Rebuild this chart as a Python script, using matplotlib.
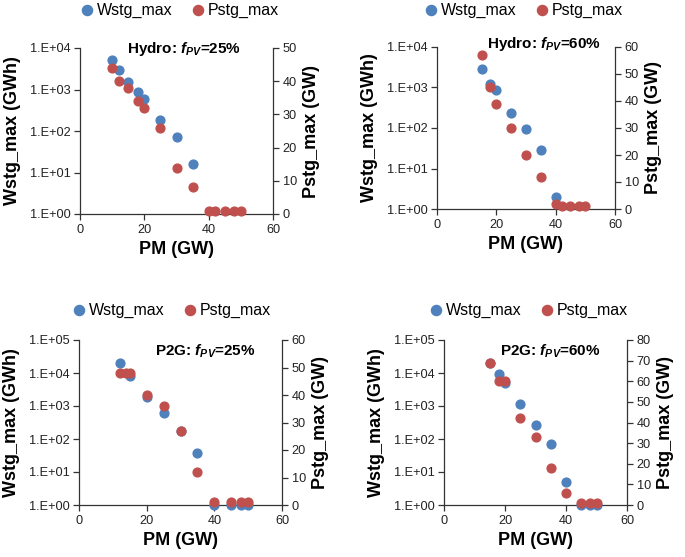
import numpy as np
import matplotlib
matplotlib.use("Agg")
import matplotlib.pyplot as plt
from matplotlib.ticker import FixedLocator, FuncFormatter

plt.rcParams["font.family"] = ["Liberation Sans", "DejaVu Sans"]
plt.rcParams["mathtext.fontset"] = "custom"
plt.rcParams["mathtext.it"] = "Liberation Sans:italic:bold"
plt.rcParams["mathtext.rm"] = "Liberation Sans:bold"
plt.rcParams["mathtext.bf"] = "Liberation Sans:bold"

BLUE = "#4F81BD"
RED = "#C0504D"

# Hydro, fPV = 25%
h25_w_pm = [10, 12, 15, 18, 20, 25, 30, 35]
h25_w = [5200, 2950, 1480, 890, 590, 180, 72, 16]
h25_p_pm = [10, 12, 15, 18, 20, 25, 30, 35, 40, 42, 45, 48, 50]
h25_p = [44, 40, 38, 34, 32, 26, 14, 8, 1, 1, 1, 1, 1]

# Hydro, fPV = 60%
h60_w_pm = [15, 18, 20, 25, 30, 35, 40]
h60_w = [2940, 1250, 860, 238, 96, 28, 2.0]
h60_p_pm = [15, 18, 20, 25, 30, 35, 40, 42, 45, 48, 50]
h60_p = [57, 45, 39, 30, 20, 12, 2, 1, 1, 1, 1]

# P2G, fPV = 25%
g25_w_pm = [12, 15, 20, 25, 30, 35, 40, 45, 48, 50]
g25_w = [20500, 8150, 1940, 605, 177, 37, 1, 1, 1, 1]
g25_p_pm = [12, 14, 15, 20, 25, 30, 35, 40, 45, 48, 50]
g25_p = [48, 48, 48, 40, 36, 27, 12, 1, 1, 1, 1]

# P2G, fPV = 60%
g60_w_pm = [15, 18, 20, 25, 30, 35, 40, 45, 48, 50]
g60_w = [19600, 9370, 4900, 1160, 275, 70, 5.0, 1, 1, 1]
g60_p_pm = [15, 18, 20, 25, 30, 35, 40, 45, 48, 50]
g60_p = [69, 60, 60, 42, 33, 18, 6, 1, 1, 1]

panels = [
    # data, title, w_top_exp, p_max, p_step, axes px (l, r, t, b), title pos, legend centre px
    ((h25_w_pm, h25_w, h25_p_pm, h25_p), "Hydro: $f_{PV}$=25%", 4, 50, 10,
     (80, 273, 48, 214), (0.54, 0.995), (178, 10)),
    ((h60_w_pm, h60_w, h60_p_pm, h60_p), "Hydro: $f_{PV}$=60%", 4, 60, 10,
     (437, 615, 47, 209), (0.6, 1.02), (522, 10)),
    ((g25_w_pm, g25_w, g25_p_pm, g25_p), "P2G: $f_{PV}$=25%", 5, 60, 10,
     (79, 282, 340, 505), (0.62, 0.93), (170, 310)),
    ((g60_w_pm, g60_w, g60_p_pm, g60_p), "P2G: $f_{PV}$=60%", 5, 80, 10,
     (444, 627, 340, 505), (0.58, 0.93), (527, 310)),
]

W, H = 685, 557
fig = plt.figure(figsize=(W / 100, H / 100), dpi=100)


def exp_fmt(v, pos):
    return "1.E+%02d" % int(round(np.log10(v)))


for (wx, wy, px, py), title, top_exp, pmax, pstep, (l, r, t, b), tpos, lpos in panels:
    ax = fig.add_axes([l / W, (H - b) / H, (r - l) / W, (b - t) / H])
    ax2 = ax.twinx()

    hw = ax.scatter(wx, wy, s=40, color=BLUE, zorder=3, label="Wstg_max", clip_on=False)
    hp = ax2.scatter(px, py, s=40, color=RED, zorder=3, label="Pstg_max", clip_on=False)
    # red points drawn above blue in reference
    ax2.set_zorder(ax.get_zorder() + 1)
    ax2.patch.set_visible(False)

    ax.set_yscale("log")
    ax.set_ylim(1, 10 ** top_exp)
    ax.yaxis.set_major_locator(FixedLocator([10 ** e for e in range(top_exp + 1)]))
    ax.yaxis.set_major_formatter(FuncFormatter(exp_fmt))
    ax.yaxis.set_minor_locator(FixedLocator([]))
    ax.set_xlim(0, 60)
    ax.set_xticks([0, 20, 40, 60])
    ax2.set_ylim(0, pmax)
    ax2.set_yticks(np.arange(0, pmax + 1, pstep))

    for a in (ax, ax2):
        a.spines["top"].set_visible(False)
        for s in a.spines.values():
            s.set_color("#333333")
            s.set_linewidth(0.9)
        a.tick_params(direction="out", length=4, width=0.9, color="#333333",
                      labelsize=9.2, labelcolor="#222222", pad=3)
    ax.spines["right"].set_visible(False)
    ax2.spines["left"].set_visible(False)
    ax2.spines["bottom"].set_visible(False)

    ax.set_xlabel("PM (GW)", fontsize=13, fontweight="bold", labelpad=4)
    ax.set_ylabel("Wstg_max (GWh)", fontsize=13, fontweight="bold", labelpad=6)
    ax2.set_ylabel("Pstg_max (GW)", fontsize=13, fontweight="bold", labelpad=4)

    ax2.text(tpos[0], tpos[1], title, transform=ax.transAxes, ha="center", va="center",
             fontsize=11, fontweight="bold", zorder=5)

    fig.legend(handles=[hw, hp], labels=["Wstg_max", "Pstg_max"], loc="center",
               bbox_to_anchor=(lpos[0] / W, 1 - lpos[1] / H), ncol=2, frameon=False,
               fontsize=11.5, handletextpad=0.0, columnspacing=1.0, markerscale=1.15,
               borderaxespad=0, handlelength=1.2)

fig.savefig("out.png", dpi=100)
